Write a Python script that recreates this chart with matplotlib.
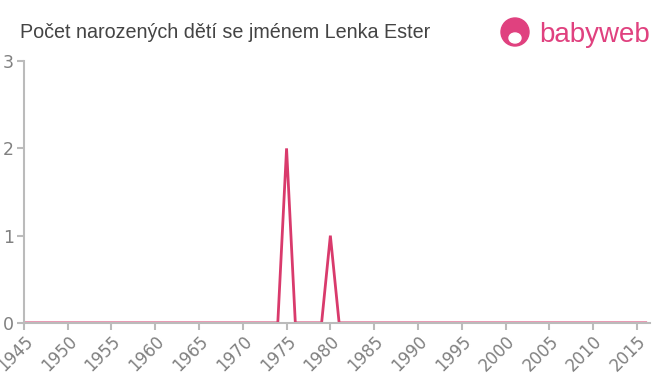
import matplotlib.pyplot as plt
from matplotlib.patches import Ellipse

# Data: number of births per year
years = list(range(1945, 2017))
counts = [0, 0, 0, 0, 0, 0, 0, 0, 0, 0,   # 1945-1954
          0, 0, 0, 0, 0, 0, 0, 0, 0, 0,   # 1955-1964
          0, 0, 0, 0, 0, 0, 0, 0, 0, 0,   # 1965-1974
          2, 0, 0, 0, 0, 1, 0, 0, 0, 0,   # 1975-1984
          0, 0, 0, 0, 0, 0, 0, 0, 0, 0,   # 1985-1994
          0, 0, 0, 0, 0, 0, 0, 0, 0, 0,   # 1995-2004
          0, 0, 0, 0, 0, 0, 0, 0, 0, 0,   # 2005-2014
          0, 0]                           # 2015-2016
tick_years = list(range(1945, 2016, 5))
y_ticks = [0, 1, 2, 3]

title = "Počet narozených dětí se jménem Lenka Ester"
line_color = "#d93a6c"
axis_color = "#bbbbbb"
text_color = "#808080"

fig = plt.figure(figsize=(6.6, 3.75), dpi=100)
ax = fig.add_axes([0.036, 0.139, 0.949, 0.698])

ax.plot(years, counts, color=line_color, linewidth=2, solid_joinstyle="miter")

ax.set_xlim(1945, 2016.5)
ax.set_ylim(0, 3)
ax.set_xticks(tick_years)
ax.set_xticklabels([str(y) for y in tick_years], rotation=45, ha="right",
                   rotation_mode="anchor", fontsize=12, color=text_color)
ax.set_yticks(y_ticks)
ax.set_yticklabels([str(v) for v in y_ticks], fontsize=12.5, color=text_color)
ax.tick_params(axis="both", color=axis_color, length=5, width=1.5)
ax.tick_params(axis="x", pad=2)
ax.tick_params(axis="y", pad=2)

for side in ["top", "right"]:
    ax.spines[side].set_visible(False)
for side in ["left", "bottom"]:
    ax.spines[side].set_color(axis_color)
    ax.spines[side].set_linewidth(1.5)

fig.text(20 / 660, 1 - 32 / 375, title, fontsize=14.2, color="#444444",
         family="Liberation Sans", va="center")

# babyweb logo
logo_color = "#e0417f"
fig.patches.append(Ellipse((515 / 660, 1 - 32 / 375), 28 / 660, 28 / 375,
                           transform=fig.transFigure, color=logo_color))
fig.patches.append(Ellipse((515 / 660, 1 - 38 / 375), 12 / 660, 10 / 375,
                           transform=fig.transFigure, color="white"))
fig.text(539 / 660, 1 - 35 / 375, "babyweb", fontsize=20, color=logo_color,
         family="Liberation Sans", va="center")

fig.savefig("out.png", dpi=100)
